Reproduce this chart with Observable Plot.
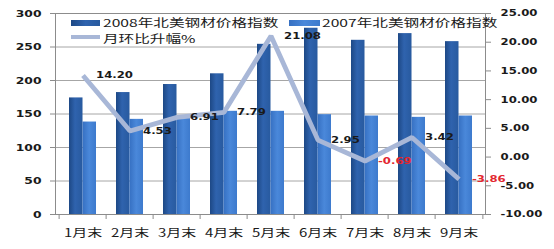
<!DOCTYPE html>
<html><head><meta charset="utf-8">
<script src="https://cdn.jsdelivr.net/npm/d3@7"></script>
<script src="https://cdn.jsdelivr.net/npm/@observablehq/plot@0.6"></script>
<style>
body{margin:0;background:#fff;}
#wrap{position:relative;width:554px;height:249px;overflow:hidden;}
.leg{position:absolute;font-family:"Noto Sans CJK SC";font-size:11px;color:#1a1a1a;transform-origin:left center;transform:scaleX(1.42);white-space:nowrap;line-height:11px;height:11px;}
.sw{position:absolute;}
</style></head><body><div id="wrap"></div>
<script>
const months = ["1月末","2月末","3月末","4月末","5月末","6月末","7月末","8月末","9月末"];
const index2008 = [174,182,194,210,254,278,260,270,258];
const index2007 = [138,142,145,154,154,149,147,145,147];
const momChange = [14.20,4.53,6.91,7.79,21.08,2.95,-0.69,3.42,-3.86];
const leftTicks = [0,50,100,150,200,250,300];
const rightTicks = [-10,-5,0,5,10,15,20,25];
const seriesNames = ["2008年北美钢材价格指数","2007年北美钢材价格指数","月环比升幅%"];

const W = 554, H = 249, mL = 55, mR = 69, mT = 13, mB = 35;
const plotW = W - mL - mR, plotH = H - mT - mB;
const step = plotW / months.length;
const pInner = 0.435;
const half = step * (1 - pInner) / 2;
const toLeft = v => (v + 10) * 300 / 35;
const data = months.map((m, i) => ({month: m, v2008: index2008[i], v2007: index2007[i], mom: momChange[i]}));
const axisColor = "#8c8c8c";

const chart = Plot.plot({
  width: W, height: H,
  marginLeft: mL, marginRight: mR, marginTop: mT, marginBottom: mB,
  style: {fontFamily: "DejaVu Sans", background: "#fff", color: "#1a1a1a", overflow: "visible"},
  x: {type: "band", domain: months, paddingInner: pInner, paddingOuter: pInner / 2, label: null},
  y: {domain: [0, 300], label: null},
  marks: [
    Plot.gridY(leftTicks, {stroke: "#a6a6a6", strokeOpacity: 1}),
    Plot.barY(data, {x: "month", y: "v2008", fill: "url(#g2008)", insetRight: half, insetLeft: 0}),
    Plot.barY(data, {x: "month", y: "v2007", fill: "url(#g2007)", insetLeft: half, insetRight: 0}),
    Plot.frame({stroke: axisColor}),
    Plot.ruleX(months, {x: d => d, dx: -step / 2, insetTop: plotH, insetBottom: -5, stroke: axisColor}),
    Plot.ruleX(months.slice(-1), {x: d => d, dx: step / 2, insetTop: plotH, insetBottom: -5, stroke: axisColor}),
    Plot.line(data, {x: "month", y: d => toLeft(d.mom), stroke: "#a8b7d7", strokeWidth: 4.8, strokeLinejoin: "miter", strokeLinecap: "butt"}),
    Plot.text(data, {x: "month", y: d => toLeft(d.mom), text: d => d.mom.toFixed(2), textAnchor: "start", dx: 13, dy: 0,
      fill: d => d.mom < 0 ? "#e3262f" : "#1a1a1a", fontWeight: "bold", fontSize: 9, fontFamily: "DejaVu Sans"}),
    Plot.axisY(leftTicks, {anchor: "left", tickSize: 5, tickPadding: 9, stroke: axisColor, fontWeight: "bold", fontSize: 9.5, fill: "#1a1a1a", label: null}),
    Plot.axisY(rightTicks.map(toLeft), {anchor: "right", tickSize: 5, tickPadding: 10, stroke: axisColor, fontWeight: "bold", fontSize: 9, fill: "#1a1a1a", label: null,
      tickFormat: v => { const k = rightTicks.findIndex(t => Math.abs(toLeft(t) - v) < 1e-6); return k < 0 ? "" : rightTicks[k].toFixed(2); }}),
    Plot.axisX({tickSize: 0, tickPadding: 14, fontSize: 11.5, fontFamily: "Noto Sans CJK SC", fill: "#1a1a1a", label: null})
  ]
});

const svg = d3.select(chart);
const defs = svg.insert("defs", ":first-child");
function grad(id, stops) {
  const g = defs.append("linearGradient").attr("id", id).attr("x1", 0).attr("x2", 1).attr("y1", 0).attr("y2", 0);
  stops.forEach(([o, c]) => g.append("stop").attr("offset", o).attr("stop-color", c));
}
grad("g2008", [[0, "#1d4885"], [0.45, "#2f63ae"], [1, "#285a9f"]]);
grad("g2007", [[0, "#3670c2"], [0.5, "#4a88da"], [1, "#3d7acd"]]);
chart.querySelectorAll("text").forEach(t => {
  const tr = t.getAttribute("transform");
  if (tr) t.setAttribute("transform", tr + " scale(1.3,1)");
});

const wrap = document.getElementById("wrap");
wrap.appendChild(chart);
function addSwatch(x, y, w, h, bg) {
  const d = document.createElement("div"); d.className = "sw";
  Object.assign(d.style, {left: x + "px", top: y + "px", width: w + "px", height: h + "px", background: bg});
  wrap.appendChild(d);
}
function addText(x, y, s) {
  const d = document.createElement("div"); d.className = "leg";
  d.style.left = x + "px"; d.style.top = y + "px"; d.textContent = s;
  wrap.appendChild(d);
}
addSwatch(71, 20, 29, 6, "linear-gradient(90deg,#1d4885,#2f63ae,#285a9f)");
addText(103, 17, seriesNames[0]);
addSwatch(289, 20, 31, 6, "linear-gradient(90deg,#3670c2,#4a88da,#3d7acd)");
addText(322, 17, seriesNames[1]);
addSwatch(71, 35, 29, 4, "#a8b7d7");
addText(103, 32.5, seriesNames[2]);
</script></body></html>
